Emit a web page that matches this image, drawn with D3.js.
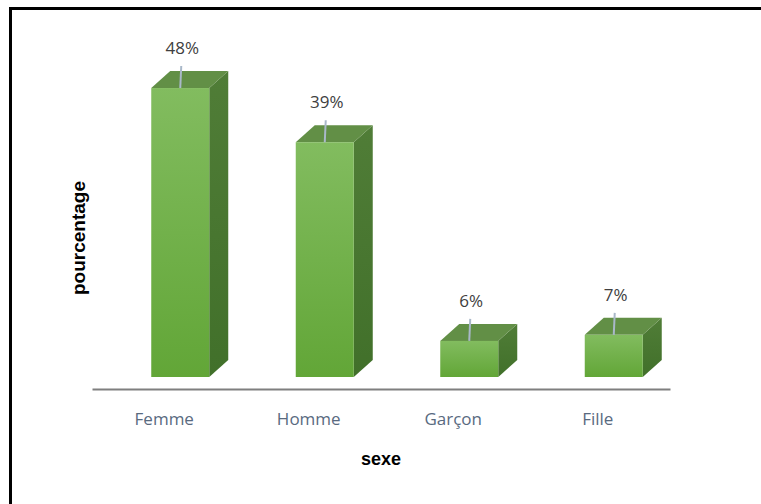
<!DOCTYPE html>
<html>
<head>
<meta charset="utf-8">
<script src="https://cdn.jsdelivr.net/npm/d3@7"></script>
<style>
  html, body { margin: 0; padding: 0; background: #fff; }
  svg { display: block; }
</style>
</head>
<body>
<svg id="chart" width="761" height="504"></svg>
<script>
// Répartition par sexe (en %)
const categories = ["Femme", "Homme", "Garçon", "Fille"];
const values = [48, 39, 6, 7];
const valueLabels = ["48%", "39%", "6%", "7%"];

const W = 761, H = 504;
const svg = d3.select("#chart");

// frame: heavy top and left rules
svg.append("rect").attr("x", 9).attr("y", 7).attr("width", W - 9).attr("height", 3).attr("fill", "#000");
svg.append("rect").attr("x", 9).attr("y", 7).attr("width", 3).attr("height", H - 7).attr("fill", "#000");

const axisY = 389;
const x = d3.scaleBand().domain(categories).range([92, 670]).paddingInner(0).paddingOuter(0);
const y = d3.scaleLinear().domain([0, 50]).range([377, 76]);

const barW = 58, shift = 16;          // front face width and offset from slot centre
const dx = 19, dy = 17;               // 3D depth offset

const defs = svg.append("defs");
const gFront = defs.append("linearGradient").attr("id", "front").attr("x1", 0).attr("y1", 0).attr("x2", 0).attr("y2", 1);
gFront.append("stop").attr("offset", "0%").attr("stop-color", "#82bc5f");
gFront.append("stop").attr("offset", "100%").attr("stop-color", "#62a637");
const gSide = defs.append("linearGradient").attr("id", "side").attr("x1", 0).attr("y1", 0).attr("x2", 0).attr("y2", 1);
gSide.append("stop").attr("offset", "0%").attr("stop-color", "#507d37");
gSide.append("stop").attr("offset", "100%").attr("stop-color", "#41702a");

const bars = svg.append("g").selectAll("g").data(categories).join("g");

bars.each(function (c, i) {
  const g = d3.select(this);
  const x0 = x(c) + x.bandwidth() / 2 + shift - barW / 2;
  const x1 = x0 + barW;
  const yt = y(values[i]), yb = y(0);
  // side face
  g.append("path")
    .attr("d", `M${x1},${yt}L${x1 + dx},${yt - dy}L${x1 + dx},${yb - dy}L${x1},${yb}Z`)
    .attr("fill", "url(#side)");
  // top face
  g.append("path")
    .attr("d", `M${x0},${yt}L${x0 + dx},${yt - dy}L${x1 + dx},${yt - dy}L${x1},${yt}Z`)
    .attr("fill", "#628f46");
  // front face
  g.append("rect")
    .attr("x", x0).attr("y", yt).attr("width", barW).attr("height", yb - yt)
    .attr("fill", "url(#front)");
  // value label with leader line
  const cx = x0 + barW / 2;
  const ly = yt - 40;
  g.append("line")
    .attr("x1", cx + 1).attr("y1", ly + 18).attr("x2", cx).attr("y2", yt)
    .attr("stroke", "#a9b8c9").attr("stroke-width", 2);
  g.append("text")
    .attr("x", cx + 2).attr("y", ly).attr("dy", "0.35em")
    .attr("text-anchor", "middle")
    .attr("font-family", "'Open Sans', 'Noto Sans', sans-serif")
    .attr("font-size", 17).attr("fill", "#404040")
    .text(valueLabels[i]);
});

// category axis
const axis = svg.append("g")
  .attr("transform", `translate(0,${axisY})`)
  .call(d3.axisBottom(x).tickSize(0).tickPadding(24));
axis.select(".domain").attr("stroke", "#7f7f7f").attr("stroke-width", 2);
axis.selectAll("text")
  .attr("font-family", "'Open Sans', 'Noto Sans', sans-serif")
  .attr("font-size", 17).attr("fill", "#596a7f");

// axis titles
svg.append("text")
  .attr("x", 381).attr("y", 459).attr("dy", "0.35em")
  .attr("text-anchor", "middle")
  .attr("font-family", "'Liberation Sans', Arial, sans-serif")
  .attr("font-weight", "bold").attr("font-size", 18).attr("fill", "#000")
  .text("sexe");
svg.append("text")
  .attr("transform", "translate(78,238) rotate(-90)")
  .attr("dy", "0.35em")
  .attr("text-anchor", "middle")
  .attr("font-family", "'Liberation Sans', Arial, sans-serif")
  .attr("font-weight", "bold").attr("font-size", 19).attr("fill", "#000")
  .text("pourcentage");
</script>
</body>
</html>
